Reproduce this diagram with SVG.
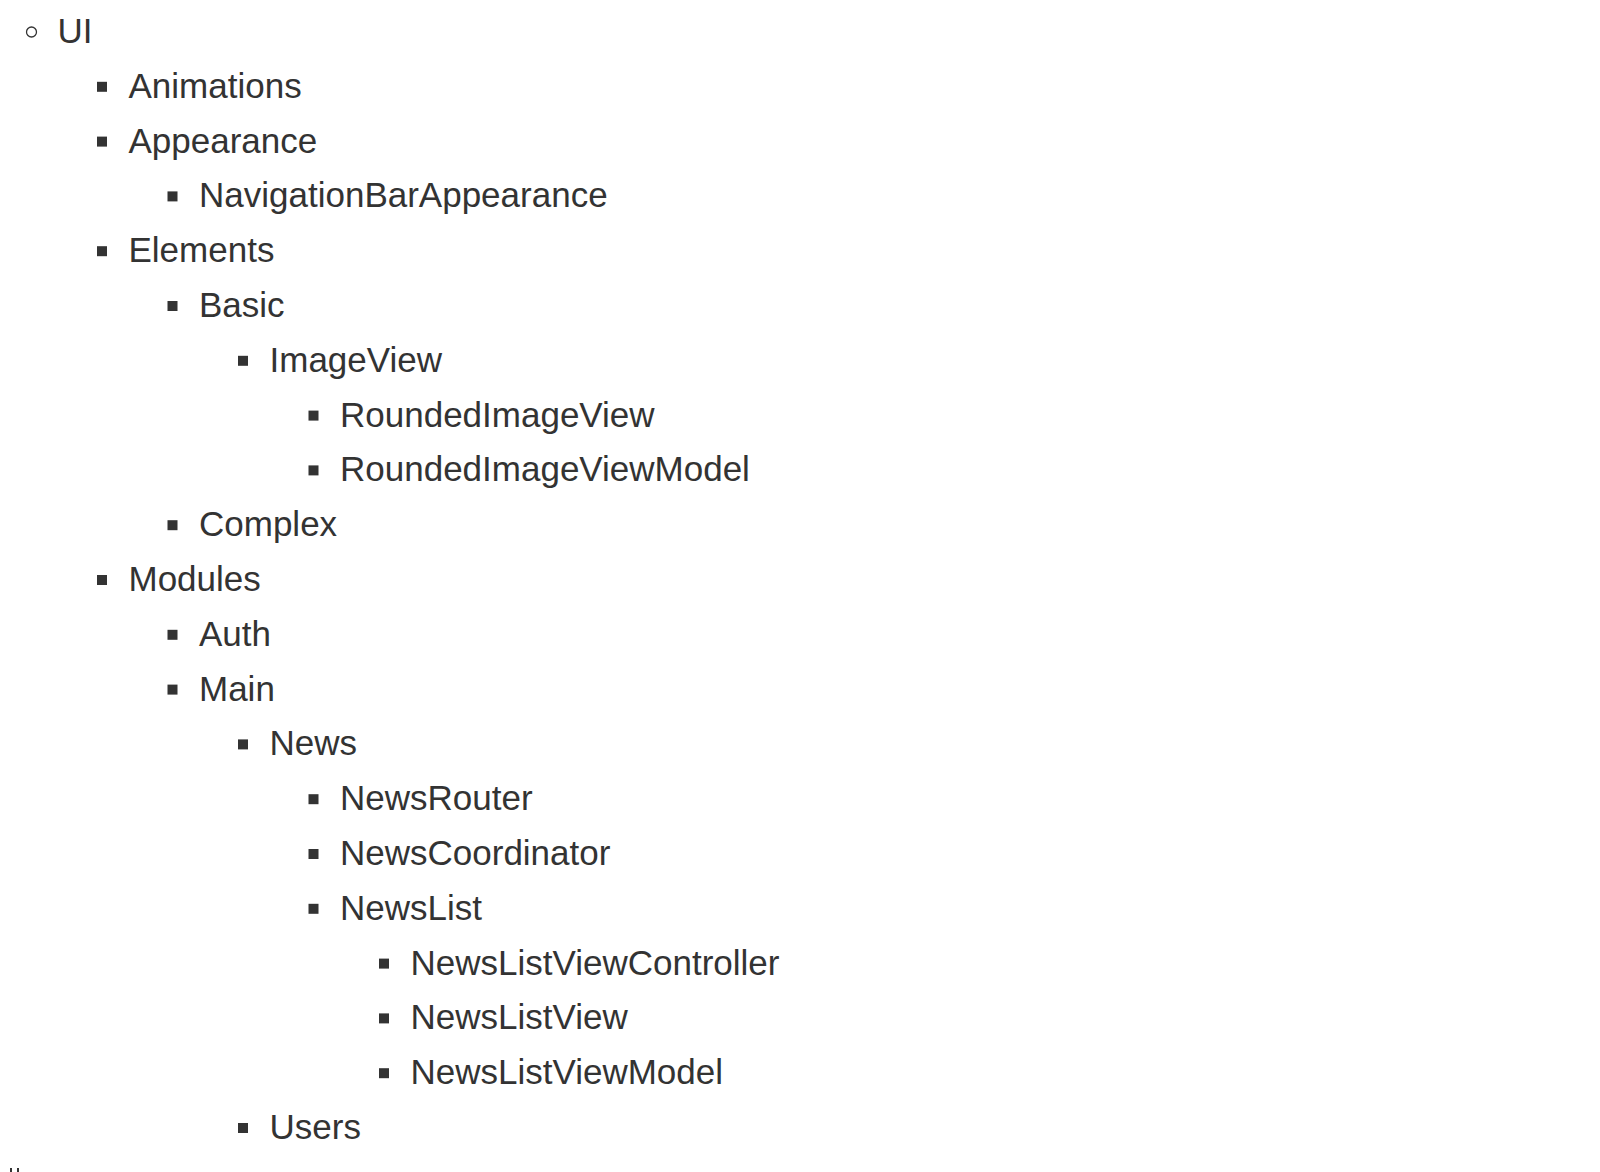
<svg xmlns="http://www.w3.org/2000/svg" width="1600" height="1172" viewBox="0 0 1600 1172">
<style>
text{font-family:"Liberation Sans",Arial,Helvetica,sans-serif;font-size:35px;fill:#333}
.sq{fill:#333}
.ci{fill:none;stroke:#333;stroke-width:1.3}
</style>
<defs><rect id="b" class="sq" x="-31.5" y="-16" width="10" height="10"/></defs>
<rect width="1600" height="1172" fill="#fff"/>
<g id="connectors"/>
<g id="n-ui" transform="translate(57.5,43)"><circle class="ci" cx="-26" cy="-11" r="5"/><text>UI</text></g>
<g id="n-animations" transform="translate(128.5,97.8)"><use href="#b"/><text>Animations</text></g>
<g id="n-appearance" transform="translate(128.5,152.6)"><use href="#b"/><text>Appearance</text></g>
<g id="n-navbar" transform="translate(199,207.4)"><use href="#b"/><text>NavigationBarAppearance</text></g>
<g id="n-elements" transform="translate(128.5,262.2)"><use href="#b"/><text>Elements</text></g>
<g id="n-basic" transform="translate(199,317)"><use href="#b"/><text>Basic</text></g>
<g id="n-imageview" transform="translate(269.5,371.8)"><use href="#b"/><text>ImageView</text></g>
<g id="n-roundedimageview" transform="translate(340,426.6)"><use href="#b"/><text>RoundedImageView</text></g>
<g id="n-roundedimageviewmodel" transform="translate(340,481.4)"><use href="#b"/><text>RoundedImageViewModel</text></g>
<g id="n-complex" transform="translate(199,536.2)"><use href="#b"/><text>Complex</text></g>
<g id="n-modules" transform="translate(128.5,591)"><use href="#b"/><text>Modules</text></g>
<g id="n-auth" transform="translate(199,645.8)"><use href="#b"/><text>Auth</text></g>
<g id="n-main" transform="translate(199,700.6)"><use href="#b"/><text>Main</text></g>
<g id="n-news" transform="translate(269.5,755.4)"><use href="#b"/><text>News</text></g>
<g id="n-newsrouter" transform="translate(340,810.2)"><use href="#b"/><text>NewsRouter</text></g>
<g id="n-newscoordinator" transform="translate(340,865)"><use href="#b"/><text>NewsCoordinator</text></g>
<g id="n-newslist" transform="translate(340,919.8)"><use href="#b"/><text>NewsList</text></g>
<g id="n-newslistviewcontroller" transform="translate(410.5,974.6)"><use href="#b"/><text>NewsListViewController</text></g>
<g id="n-newslistview" transform="translate(410.5,1029.4)"><use href="#b"/><text>NewsListView</text></g>
<g id="n-newslistviewmodel" transform="translate(410.5,1084.2)"><use href="#b"/><text>NewsListViewModel</text></g>
<g id="n-users" transform="translate(269.5,1139)"><use href="#b"/><text>Users</text></g>
<g id="clip-marks"><rect class="sq" x="10" y="1168" width="2" height="4"/><rect class="sq" x="17" y="1168" width="2" height="4"/></g>
</svg>
